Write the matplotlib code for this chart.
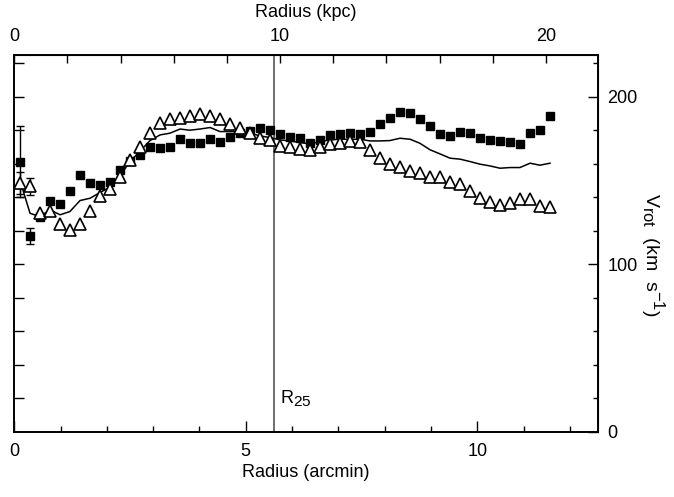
import numpy as np
import matplotlib
matplotlib.use('Agg')
import matplotlib.pyplot as plt
import matplotlib._mathtext as mathtext_internal
from matplotlib.ticker import FixedLocator, NullFormatter

plt.rcParams['font.family'] = ['Liberation Sans', 'DejaVu Sans']
plt.rcParams['font.size'] = 13
plt.rcParams['mathtext.fontset'] = 'custom'
plt.rcParams['mathtext.rm'] = 'Liberation Sans'
plt.rcParams['mathtext.it'] = 'Liberation Sans:italic'
plt.rcParams['mathtext.bf'] = 'Liberation Sans:bold'
# sub/superscripts in the original are almost full size
mathtext_internal.SHRINK_FACTOR = 0.85

# ==================== data ====================
radius = [0.12, 0.34, 0.55, 0.77, 0.99, 1.20, 1.42, 1.64, 1.85, 2.07,
          2.28, 2.50, 2.71, 2.93, 3.15, 3.36, 3.58, 3.79, 4.01, 4.23,
          4.44, 4.66, 4.87, 5.09, 5.31, 5.52, 5.74, 5.95, 6.17, 6.39,
          6.60, 6.82, 7.03, 7.25, 7.47, 7.68, 7.90, 8.11, 8.33, 8.55,
          8.76, 8.98, 9.19, 9.41, 9.63, 9.84, 10.06, 10.27, 10.49, 10.71,
          10.92, 11.14, 11.35, 11.57]

# filled squares
v_side1 = [161.4, 117.0, 128.5, 137.9, 135.9, 143.9, 153.4, 148.5, 147.5, 149.4,
           156.4, 161.8, 165.4, 170.3, 169.3, 170.3, 174.9, 172.7, 172.3, 174.9,
           172.9, 176.3, 178.3, 179.7, 181.3, 180.3, 177.7, 176.3, 175.7, 172.7,
           174.3, 177.3, 177.7, 178.3, 177.7, 178.9, 183.7, 187.6, 190.9, 190.6,
           186.9, 182.7, 177.9, 176.7, 178.9, 178.3, 175.7, 174.3, 173.7, 173.3,
           171.9, 178.3, 180.3, 188.7]
err_side1 = [21.3, 4.7]

# open triangles
v_side2 = [148.5, 146.5, 130.5, 131.9, 124.0, 120.6, 124.0, 131.9, 140.9, 144.9,
           152.4, 162.4, 170.3, 178.3, 184.7, 186.9, 187.1, 188.3, 189.9, 188.7,
           186.7, 183.9, 181.7, 178.3, 175.3, 174.3, 170.7, 170.3, 169.1, 168.4,
           170.0, 171.9, 172.7, 173.9, 172.9, 168.4, 163.8, 160.0, 158.4, 156.0,
           154.4, 152.0, 152.0, 149.3, 147.9, 143.5, 139.9, 137.1, 135.5, 136.9,
           138.9, 138.9, 134.9, 134.5]
err_side2 = [6.4, 4.8]

# solid line (both sides)
v_both = [150.4, 130.5, 128.5, 132.5, 129.6, 131.5, 138.1, 139.5, 142.9, 146.1,
          152.8, 161.4, 167.4, 173.9, 177.3, 178.3, 180.8, 180.1, 180.8, 181.7,
          179.3, 179.3, 179.3, 178.3, 176.7, 175.7, 174.3, 173.7, 172.7, 171.9,
          173.3, 174.3, 174.7, 174.7, 174.7, 173.7, 173.7, 173.9, 175.3, 174.7,
          172.3, 168.4, 166.0, 163.4, 162.8, 161.4, 159.8, 158.8, 157.4, 157.8,
          157.8, 160.4, 159.2, 160.4]

# ticks
arcmin_major = [0, 5, 10]
arcmin_minor = [1, 2, 3, 4, 6, 7, 8, 9, 11, 12]
kpc_major = [0, 10, 20]
kpc_minor = [2, 4, 6, 8, 12, 14, 16, 18]
vel_major = [0, 100, 200]
vel_minor = [20, 40, 60, 80, 120, 140, 160, 180, 220]
vel_left = [20, 40, 60, 80, 100, 120, 140, 160, 180, 200, 220]

R25 = 5.6               # arcmin
KPC_PER_ARCMIN = 1.742


def main():
    fig = plt.figure(figsize=(6.74, 4.97), dpi=100)
    ax = fig.add_axes([0.0212, 0.1312, 0.8656, 0.7581])

    ax.plot(radius, v_both, color='black', linewidth=1.1, zorder=3)
    ax.plot(radius, v_side1, linestyle='none', marker='s', markersize=5.5,
            color='black', zorder=4)
    ax.plot(radius, v_side2, linestyle='none', marker='^', markersize=8,
            markerfacecolor='white', markeredgecolor='black',
            markeredgewidth=1.2, zorder=5)

    # error bars on the innermost points
    n1 = len(err_side1)
    ax.errorbar(radius[:n1], v_side1[:n1], yerr=err_side1, fmt='none',
                ecolor='black', elinewidth=1.0, capsize=3, capthick=1.0, zorder=4)
    n2 = len(err_side2)
    ax.errorbar(radius[:n2], v_side2[:n2], yerr=err_side2, fmt='none',
                ecolor='black', elinewidth=1.0, capsize=3, capthick=1.0, zorder=4)

    # R25 marker
    ax.axvline(R25, color='#555555', linewidth=1.2, zorder=2)
    ax.text(R25 + 0.13, 17, r'R$_{25}$', ha='left', va='baseline', fontsize=13)

    ax.set_xlim(0, 12.6)
    ax.set_ylim(0, 225)

    for sp in ax.spines.values():
        sp.set_linewidth(1.4)

    # bottom / left
    ax.xaxis.set_major_locator(FixedLocator(arcmin_major))
    ax.xaxis.set_minor_locator(FixedLocator(arcmin_minor))
    ax.yaxis.set_major_locator(FixedLocator(vel_left))
    ax.yaxis.set_major_formatter(NullFormatter())
    ax.tick_params(axis='x', which='major', direction='in', length=8, width=1.0,
                   pad=8, top=False)
    ax.tick_params(axis='x', which='minor', direction='in', length=4, width=1.0,
                   top=False)
    ax.tick_params(axis='y', which='major', direction='in', length=7, width=1.0,
                   right=False, labelleft=False)
    ax.set_xlabel('Radius (arcmin)', labelpad=3)

    # top: kpc
    top = ax.secondary_xaxis('top', functions=(lambda a: a * KPC_PER_ARCMIN,
                                               lambda k: k / KPC_PER_ARCMIN))
    top.xaxis.set_major_locator(FixedLocator(kpc_major))
    top.xaxis.set_minor_locator(FixedLocator(kpc_minor))
    top.tick_params(which='major', direction='in', length=6, width=1.0, pad=7)
    top.tick_params(which='minor', direction='in', length=6, width=1.0)
    top.set_xlabel('Radius (kpc)', labelpad=8)

    # right: velocity
    right = ax.secondary_yaxis('right')
    right.yaxis.set_major_locator(FixedLocator(vel_major))
    right.yaxis.set_minor_locator(FixedLocator(vel_minor))
    right.tick_params(which='major', direction='in', length=7, width=1.0, pad=7)
    right.tick_params(which='minor', direction='in', length=3.5, width=1.0)
    ax.text(1.095, 0.47, r'V$_{\rm rot}$  (km  s$^{-1}$)', transform=ax.transAxes,
            rotation=270, ha='center', va='center', fontsize=14)

    fig.savefig('out.png', dpi=100)
    plt.close(fig)


if __name__ == "__main__":
    main()
